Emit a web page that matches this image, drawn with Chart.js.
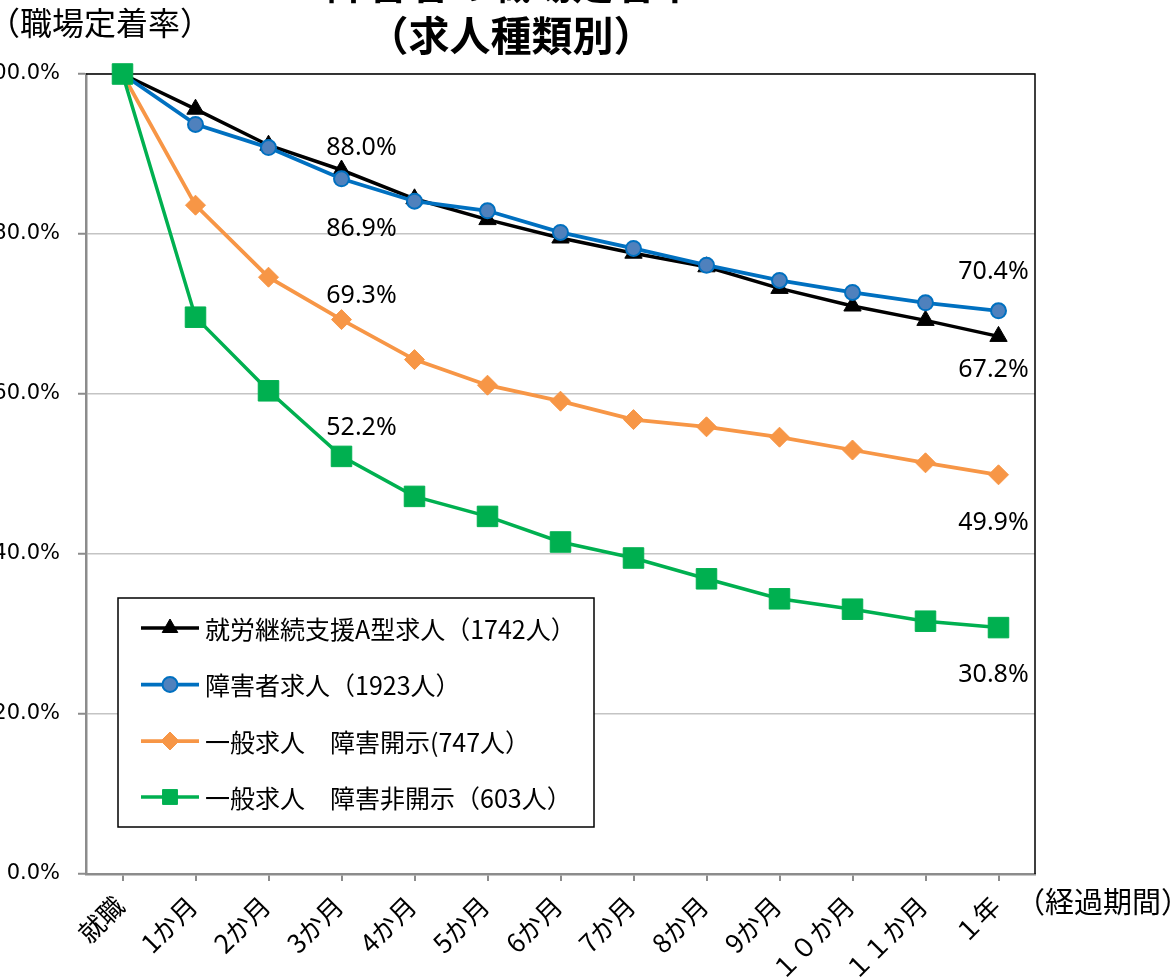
<!DOCTYPE html>
<html><head><meta charset="utf-8">
<script src="https://cdn.jsdelivr.net/npm/chart.js@4.4.1/dist/chart.umd.min.js"></script>
<style>
html,body{margin:0;padding:0;background:#fff;overflow:hidden}
#wrap{position:relative;width:1175px;height:977px}
canvas{display:block}
</style></head>
<body><div id="wrap"><canvas id="c" width="1175" height="977"></canvas></div>
<script>
// ---- data ----
const categories = ['就職','1か月','2か月','3か月','4か月','5か月','6か月','7か月','8か月','9か月','１０か月','１１か月','１年'];
const typeA = [100, 95.6, 91.1, 88.0, 84.4, 81.8, 79.5, 77.6, 75.9, 73.2, 71.0, 69.2, 67.2];
const disabilityJobs = [100, 93.7, 90.8, 86.9, 84.1, 82.9, 80.2, 78.2, 76.1, 74.2, 72.7, 71.4, 70.4];
const generalDisclosed = [100, 83.6, 74.6, 69.3, 64.3, 61.1, 59.1, 56.8, 55.9, 54.6, 53.0, 51.4, 49.9];
const generalUndisclosed = [100, 69.6, 60.4, 52.2, 47.2, 44.7, 41.5, 39.5, 36.9, 34.4, 33.1, 31.6, 30.8];
const seriesLabels = ['就労継続支援A型求人（1742人）','障害者求人（1923人）','一般求人　障害開示(747人）','一般求人　障害非開示（603人）'];
const yTicks = [0, 20, 40, 60, 80, 100];
const titleLines = ['障害者の職場定着率', '（求人種類別）'];
const yAxisTitle = '（職場定着率）';
const xAxisTitle = '（経過期間）';

// ---- styles / layout ----
const CJK = '"Noto Sans CJK JP", "Noto Sans CJK SC", sans-serif';
const labelSpecs = [
  {ds:0, i:3, dx:20, dy:-22}, {ds:1, i:3, dx:20, dy:50},
  {ds:2, i:3, dx:20, dy:-24}, {ds:3, i:3, dx:20, dy:-29},
  {ds:1, i:12, dx:-5, dy:-39}, {ds:0, i:12, dx:-5, dy:33},
  {ds:2, i:12, dx:-5, dy:48}, {ds:3, i:12, dx:-5, dy:47}
];
const legendLayout = {x:118, y:598, w:476, h:229, rows:[628, 684.5, 741, 797], x0:141, x1:199, tx:205,
  radii:[9, 7.5, 9, 10.5]};

const datasets = [
  {label: seriesLabels[0], data: typeA, borderColor:'#000000', backgroundColor:'#000000', borderWidth:3.5,
   pointStyle:'triangle', pointRadius:10, pointBackgroundColor:'#000000', pointBorderColor:'#000000', pointBorderWidth:1, order:4},
  {label: seriesLabels[1], data: disabilityJobs, borderColor:'#0070C0', backgroundColor:'#0070C0', borderWidth:3.75,
   pointStyle:'circle', pointRadius:7.5, pointBackgroundColor:'#4F81BD', pointBorderColor:'#0070C0', pointBorderWidth:2, order:3},
  {label: seriesLabels[2], data: generalDisclosed, borderColor:'#F79646', backgroundColor:'#F79646', borderWidth:3.75,
   pointStyle:'rectRot', pointRadius:10, pointBackgroundColor:'#F79646', pointBorderColor:'#F79646', pointBorderWidth:1, order:2},
  {label: seriesLabels[3], data: generalUndisclosed, borderColor:'#00B050', backgroundColor:'#00B050', borderWidth:3.5,
   pointStyle:'rect', pointRadius:14.5, pointBackgroundColor:'#00B050', pointBorderColor:'#00B050', pointBorderWidth:1, order:1}
].map(d => Object.assign(d, {clip:false, tension:0, fill:false, pointHoverRadius:d.pointRadius}));

const framePlugin = {
  id:'frame',
  beforeDatasetsDraw(chart){
    const {ctx, chartArea:a} = chart;
    ctx.save();
    ctx.strokeStyle = '#000'; ctx.lineWidth = 1.5;
    ctx.beginPath();
    ctx.moveTo(a.left, a.top); ctx.lineTo(a.right, a.top); ctx.lineTo(a.right, a.bottom);
    ctx.stroke();
    ctx.restore();
  }
};

const textPlugin = {
  id:'texts',
  afterDatasetsDraw(chart){
    const ctx = chart.ctx;
    ctx.save();
    // data labels
    ctx.fillStyle = '#000';
    ctx.font = '25px "Noto Sans", "Open Sans", sans-serif';
    ctx.textAlign = 'center'; ctx.textBaseline = 'middle';
    labelSpecs.forEach(s => {
      const pt = chart.getDatasetMeta(s.ds).data[s.i];
      const v = chart.data.datasets[s.ds].data[s.i];
      ctx.fillText(v.toFixed(1) + '%', pt.x + s.dx, pt.y + s.dy);
    });
    // legend
    const L = legendLayout;
    ctx.fillStyle = '#fff';
    ctx.fillRect(L.x, L.y, L.w, L.h);
    ctx.strokeStyle = '#000'; ctx.lineWidth = 1.5;
    ctx.strokeRect(L.x, L.y, L.w, L.h);
    chart.data.datasets.forEach((d, k) => {
      const y = L.rows[k];
      ctx.strokeStyle = d.borderColor; ctx.lineWidth = d.borderWidth;
      ctx.beginPath(); ctx.moveTo(L.x0, y); ctx.lineTo(L.x1, y); ctx.stroke();
      ctx.fillStyle = d.pointBackgroundColor; ctx.strokeStyle = d.pointBorderColor; ctx.lineWidth = d.pointBorderWidth;
      Chart.helpers.drawPoint(ctx, {pointStyle:d.pointStyle, radius:L.radii[k], rotation:0, borderWidth:d.pointBorderWidth}, (L.x0 + L.x1) / 2, y);
      ctx.fillStyle = '#000';
      ctx.font = '25px ' + CJK;
      ctx.textAlign = 'left'; ctx.textBaseline = 'middle';
      ctx.fillText(d.label, L.tx, y + 1);
    });
    // titles
    ctx.fillStyle = '#000';
    ctx.font = 'bold 41px ' + CJK;
    ctx.textAlign = 'center'; ctx.textBaseline = 'middle';
    ctx.fillText(titleLines[0], 511, -17);
    ctx.fillText(titleLines[1], 511, 35);
    ctx.font = '32px ' + CJK;
    ctx.textAlign = 'left';
    ctx.fillText(yAxisTitle, -12, 23);
    ctx.font = '29px ' + CJK;
    ctx.fillText(xAxisTitle, 1016, 902);
    ctx.restore();
  }
};

new Chart(document.getElementById('c'), {
  type:'line',
  data:{labels:categories, datasets},
  options:{
    responsive:false, animation:false, devicePixelRatio:1,
    layout:{padding:{left:0, top:74, right:140, bottom:0}},
    plugins:{legend:{display:false}, tooltip:{enabled:false}, title:{display:false}},
    scales:{
      x:{
        type:'category', offset:true,
        grid:{display:true, drawOnChartArea:false, drawTicks:true, tickLength:7, color:'#8c8c8c', lineWidth:2, offset:false},
        border:{display:true, color:'#8c8c8c', width:2.5},
        ticks:{autoSkip:false, maxRotation:45, minRotation:45, padding:9, labelOffset:-3, color:'#000', font:{family:CJK, size:26}},
        afterFit(s){ s.height = 103; }
      },
      y:{
        min:0, max:100,
        afterBuildTicks(s){ s.ticks = yTicks.map(v => ({value:v})); },
        grid:{color:'#c4c4c4', lineWidth:1.5, tickLength:8, tickColor:'#8c8c8c', tickWidth:2},
        border:{display:true, color:'#8c8c8c', width:2.5},
        ticks:{padding:18, color:'#000', font:{family:'"DejaVu Sans", Verdana, sans-serif', size:21},
          callback:v => Number(v).toFixed(1) + '%'},
        afterFit(s){ s.width = 86; }
      }
    }
  },
  plugins:[framePlugin, textPlugin]
});
</script>
</body></html>
